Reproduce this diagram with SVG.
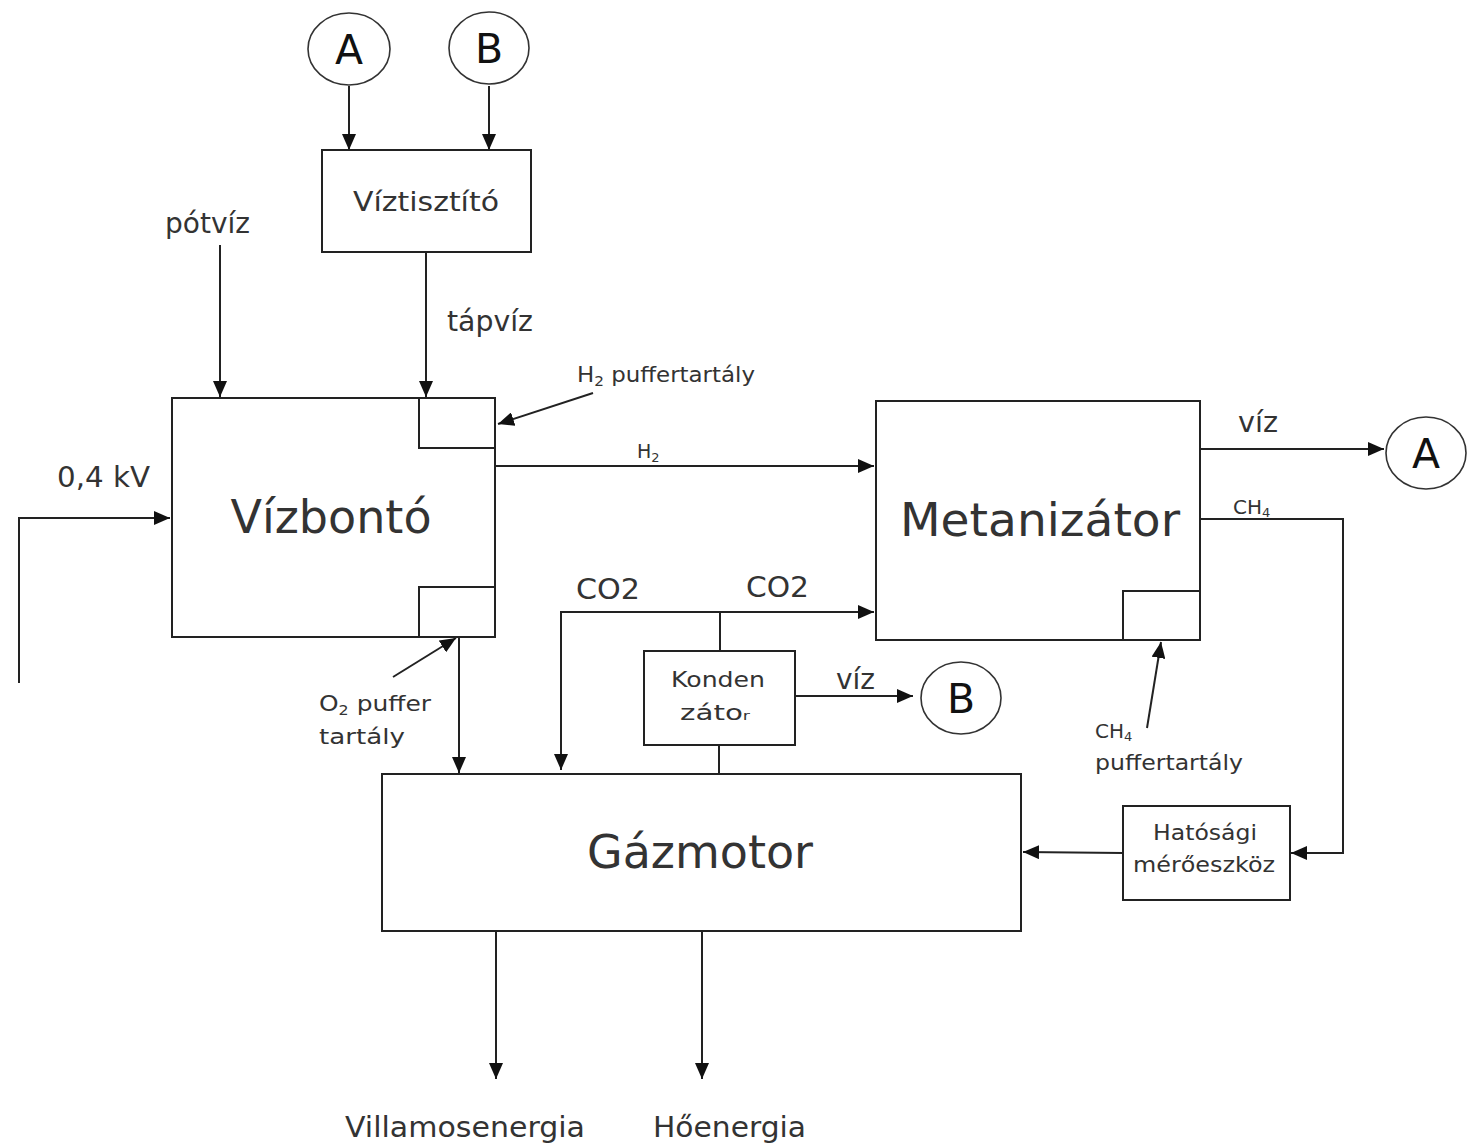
<svg xmlns="http://www.w3.org/2000/svg" width="1468" height="1144" viewBox="0 0 1468 1144">
<defs>
<marker id="ah" markerUnits="userSpaceOnUse" markerWidth="16" markerHeight="14" viewBox="0 0 16 14" refX="16" refY="7" orient="auto">
<path d="M0,0 L16,7 L0,14 Z" fill="#111"/>
</marker>
<style>
.b{fill:#fff;stroke:#222;stroke-width:2}
.c{fill:#fff;stroke:#333;stroke-width:1.6}
.l{fill:none;stroke:#222;stroke-width:2}
.a{fill:none;stroke:#222;stroke-width:2;marker-end:url(#ah)}
.t{font-family:"DejaVu Sans","Open Sans",sans-serif;fill:#333}
.big{font-size:46px;text-anchor:middle}
.mid{font-size:28px}
.sm{font-size:22px}
.circ{font-family:"DejaVu Sans","Open Sans",sans-serif;font-size:41px;fill:#111;text-anchor:middle}
</style>
</defs>
<rect width="1468" height="1144" fill="#fff"/>

<g id="connectors">
<line class="a" x1="349" y1="86" x2="349" y2="150"/>
<line class="a" x1="489" y1="86" x2="489" y2="150"/>
<line class="a" x1="426" y1="252" x2="426" y2="397"/>
<line class="a" x1="220" y1="245" x2="220" y2="397"/>
<polyline class="a" points="19,683 19,518 170,518"/>
<line class="a" x1="593" y1="393" x2="498" y2="424"/>
<line class="a" x1="495" y1="466" x2="874" y2="466"/>
<line class="a" x1="1200" y1="449" x2="1384" y2="449"/>
<polyline class="a" points="1200,519 1343,519 1343,853 1291,853"/>
<line class="a" x1="1147" y1="728" x2="1161" y2="642"/>
<line class="a" x1="1123" y1="853" x2="1023" y2="852"/>
<polyline class="a" points="720,612 561,612 561,770"/>
<line class="a" x1="720" y1="612" x2="874" y2="612"/>
<line class="l" x1="720" y1="612" x2="720" y2="651"/>
<line class="l" x1="719" y1="745" x2="719" y2="774"/>
<line class="a" x1="795" y1="696" x2="913" y2="696"/>
<line class="a" x1="459" y1="637" x2="459" y2="773"/>
<line class="a" x1="393" y1="677" x2="456" y2="638"/>
<line class="a" x1="496" y1="931" x2="496" y2="1079"/>
<line class="a" x1="702" y1="931" x2="702" y2="1079"/>
</g>

<g id="circleA_top">
<ellipse class="c" cx="349" cy="49" rx="41" ry="36"/>
<text class="circ" x="349" y="64">A</text>
</g>
<g id="circleB_top">
<ellipse class="c" cx="489" cy="48" rx="40" ry="36"/>
<text class="circ" x="489" y="63">B</text>
</g>
<g id="viztisztito">
<rect class="b" x="322" y="150" width="209" height="102"/>
<text class="t" font-size="27" x="353" y="211" textLength="146" lengthAdjust="spacingAndGlyphs">Víztisztító</text>
</g>
<g id="vizbonto">
<rect class="b" x="172" y="398" width="323" height="239"/>
<rect class="b" x="419" y="398" width="76" height="50"/>
<rect class="b" x="419" y="587" width="76" height="50"/>
<text class="t big" x="331" y="533">Vízbontó</text>
</g>
<g id="metanizator">
<rect class="b" x="876" y="401" width="324" height="239"/>
<rect class="b" x="1123" y="591" width="77" height="49"/>
<text class="t big" x="1040" y="536" textLength="280" lengthAdjust="spacingAndGlyphs" text-anchor="middle">Metanizátor</text>
</g>
<g id="kondenzator">
<rect class="b" x="644" y="651" width="151" height="94"/>
<text class="t sm" x="671" y="687" textLength="94" lengthAdjust="spacingAndGlyphs">Konden</text>
<text class="t sm" x="680" y="720" textLength="70" lengthAdjust="spacingAndGlyphs">záto<tspan font-size="13">r</tspan></text>
</g>
<g id="circleB_right">
<ellipse class="c" cx="961" cy="698" rx="40" ry="36"/>
<text class="circ" x="961" y="713">B</text>
</g>
<g id="circleA_right">
<ellipse class="c" cx="1426" cy="453" rx="40" ry="36"/>
<text class="circ" x="1426" y="468">A</text>
</g>
<g id="hatosagi">
<rect class="b" x="1123" y="806" width="167" height="94"/>
<text class="t sm" x="1153" y="840" textLength="104" lengthAdjust="spacingAndGlyphs">Hatósági</text>
<text class="t sm" x="1133" y="872" textLength="142" lengthAdjust="spacingAndGlyphs">mérőeszköz</text>
</g>
<g id="gazmotor">
<rect class="b" x="382" y="774" width="639" height="157"/>
<text class="t big" x="700" y="868">Gázmotor</text>
</g>

<g id="labels">
<text class="t mid" x="165" y="233" textLength="85" lengthAdjust="spacingAndGlyphs">pótvíz</text>
<text class="t mid" x="447" y="331" textLength="86" lengthAdjust="spacingAndGlyphs">tápvíz</text>
<text class="t" font-size="21" x="577" y="382" textLength="178" lengthAdjust="spacingAndGlyphs">H<tspan font-size="14" dy="4">2</tspan><tspan dy="-4"> puffertartály</tspan></text>
<text class="t" font-size="19" x="637" y="458">H<tspan font-size="13" dy="4">2</tspan></text>
<text class="t mid" x="57" y="487" textLength="93" lengthAdjust="spacingAndGlyphs">0,4 kV</text>
<text class="t mid" x="1238" y="432" textLength="40" lengthAdjust="spacingAndGlyphs">víz</text>
<text class="t" font-size="20" x="1233" y="514">CH<tspan font-size="13" dy="3">4</tspan></text>
<text class="t mid" x="576" y="599" textLength="64" lengthAdjust="spacingAndGlyphs">CO2</text>
<text class="t mid" x="746" y="597" textLength="63" lengthAdjust="spacingAndGlyphs">CO2</text>
<text class="t mid" x="836" y="689" textLength="39" lengthAdjust="spacingAndGlyphs">víz</text>
<text class="t sm" x="319" y="711" textLength="112" lengthAdjust="spacingAndGlyphs">O<tspan font-size="14" dy="4">2</tspan><tspan dy="-4"> puffer</tspan></text>
<text class="t sm" x="319" y="744" textLength="86" lengthAdjust="spacingAndGlyphs">tartály</text>
<text class="t" font-size="20" x="1095" y="738">CH<tspan font-size="13" dy="3">4</tspan></text>
<text class="t sm" x="1095" y="770" textLength="148" lengthAdjust="spacingAndGlyphs">puffertartály</text>
<text class="t mid" x="345" y="1137" textLength="240" lengthAdjust="spacingAndGlyphs">Villamosenergia</text>
<text class="t mid" x="653" y="1137" textLength="153" lengthAdjust="spacingAndGlyphs">Hőenergia</text>
</g>
</svg>
